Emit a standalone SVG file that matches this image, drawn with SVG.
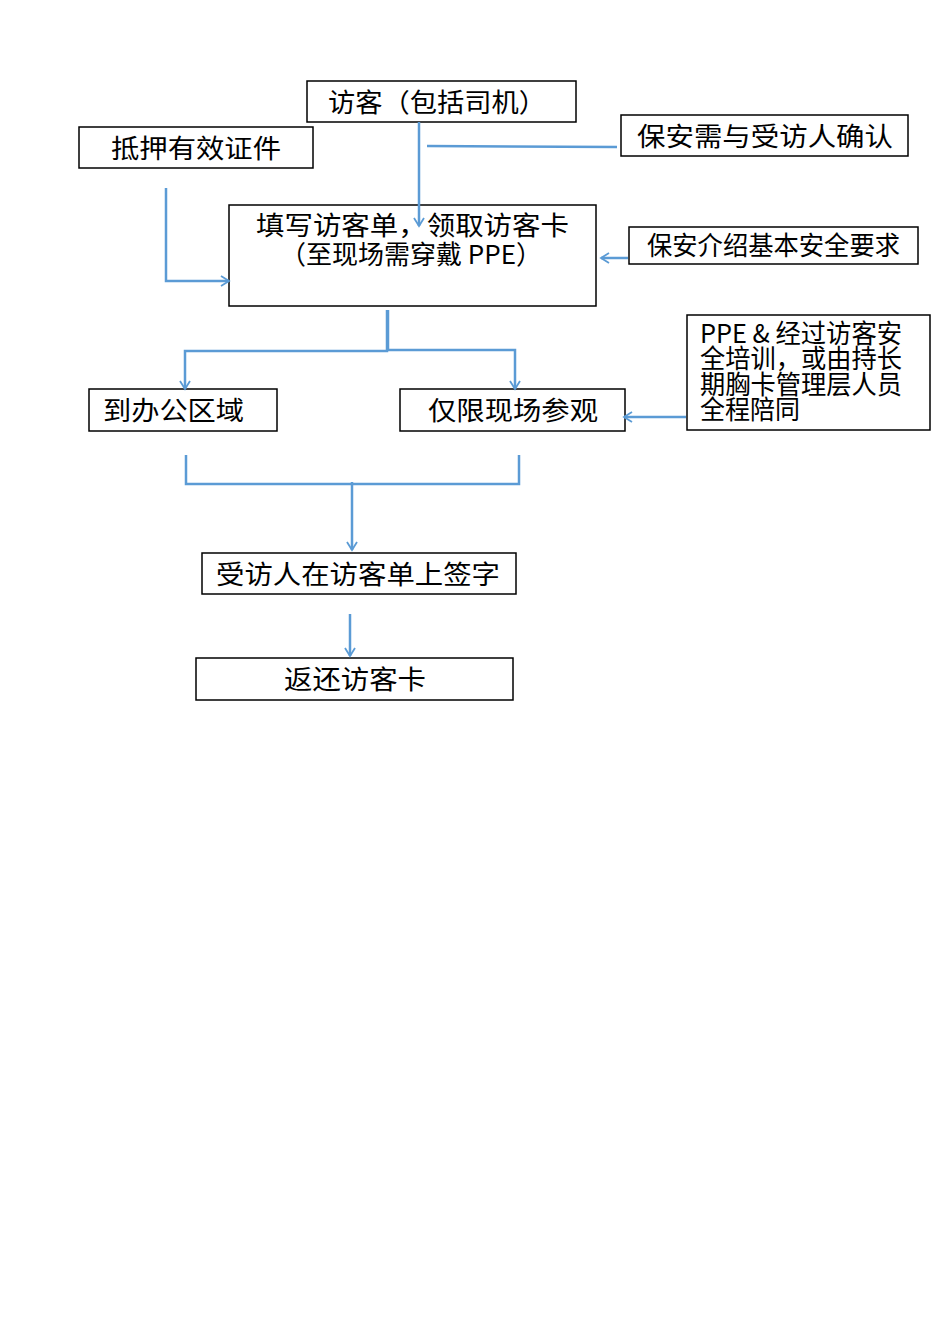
<svg xmlns="http://www.w3.org/2000/svg" width="950" height="1344" viewBox="0 0 950 1344">
<style>
rect{fill:#fff;stroke:#000;stroke-width:1.5}
text{font-family:"Noto Sans CJK SC","Noto Sans",sans-serif;font-size:26px;fill:#000}
.c path{fill:none;stroke:#5b9bd5;stroke-width:2.5}
</style>
<defs><marker id="a" markerWidth="12" markerHeight="12" refX="10" refY="6" orient="auto" markerUnits="userSpaceOnUse"><path d="M2,1 L10,6 L2,11" fill="none" stroke="#5b9bd5" stroke-width="1.8"/></marker></defs>
<g id="n1"><rect x="307" y="81" width="269" height="41"/><text x="328" y="112" textLength="218" lengthAdjust="spacingAndGlyphs">访客（包括司机）</text></g>
<g id="n2"><rect x="79" y="127" width="234" height="41"/><text x="111" y="158" textLength="170" lengthAdjust="spacingAndGlyphs">抵押有效证件</text></g>
<g id="n3"><rect x="621" y="115" width="287" height="41"/><text x="637" y="146" textLength="256" lengthAdjust="spacingAndGlyphs">保安需与受访人确认</text></g>
<g id="n4"><rect x="229" y="205" width="367" height="101"/><text x="256" y="235" textLength="313" lengthAdjust="spacingAndGlyphs">填写访客单，领取访客卡</text><text x="280" y="264" textLength="262" lengthAdjust="spacingAndGlyphs">（至现场需穿戴 PPE）</text></g>
<g id="n5"><rect x="629" y="227" width="289" height="37"/><text x="647" y="255" font-size="24" textLength="253" lengthAdjust="spacingAndGlyphs">保安介绍基本安全要求</text></g>
<g id="n6"><rect x="687" y="315" width="243" height="115"/><text font-size="20"><tspan x="700" y="343" textLength="202" lengthAdjust="spacingAndGlyphs">PPE &amp; 经过访客安</tspan><tspan x="700" y="368" textLength="202" lengthAdjust="spacingAndGlyphs">全培训，或由持长</tspan><tspan x="700" y="394" textLength="202" lengthAdjust="spacingAndGlyphs">期胸卡管理层人员</tspan><tspan x="700" y="419" textLength="100" lengthAdjust="spacingAndGlyphs">全程陪同</tspan></text></g>
<g id="n7"><rect x="89" y="389" width="188" height="42"/><text x="103" y="420" textLength="141" lengthAdjust="spacingAndGlyphs">到办公区域</text></g>
<g id="n8"><rect x="400" y="389" width="225" height="42"/><text x="428" y="420" textLength="170" lengthAdjust="spacingAndGlyphs">仅限现场参观</text></g>
<g id="n9"><rect x="202" y="553" width="314" height="41"/><text x="216" y="584" textLength="284" lengthAdjust="spacingAndGlyphs">受访人在访客单上签字</text></g>
<g id="n10"><rect x="196" y="658" width="317" height="42"/><text x="284" y="689" textLength="142" lengthAdjust="spacingAndGlyphs">返还访客卡</text></g>
<g class="c">
<path d="M419,122 V226" marker-end="url(#a)"/>
<path d="M427,146 L617,147"/>
<path d="M166,188 V281 H229" marker-end="url(#a)"/>
<path d="M628,258 H601" marker-end="url(#a)"/>
<path d="M387,310 V351 H185 V389" marker-end="url(#a)"/>
<path d="M388,310 V350 H515 V389" marker-end="url(#a)"/>
<path d="M686,417 H624" marker-end="url(#a)"/>
<path d="M186,455 V484 H519 V455"/>
<path d="M352,482 V550" marker-end="url(#a)"/>
<path d="M350,614 V656" marker-end="url(#a)"/>
</g>
</svg>
